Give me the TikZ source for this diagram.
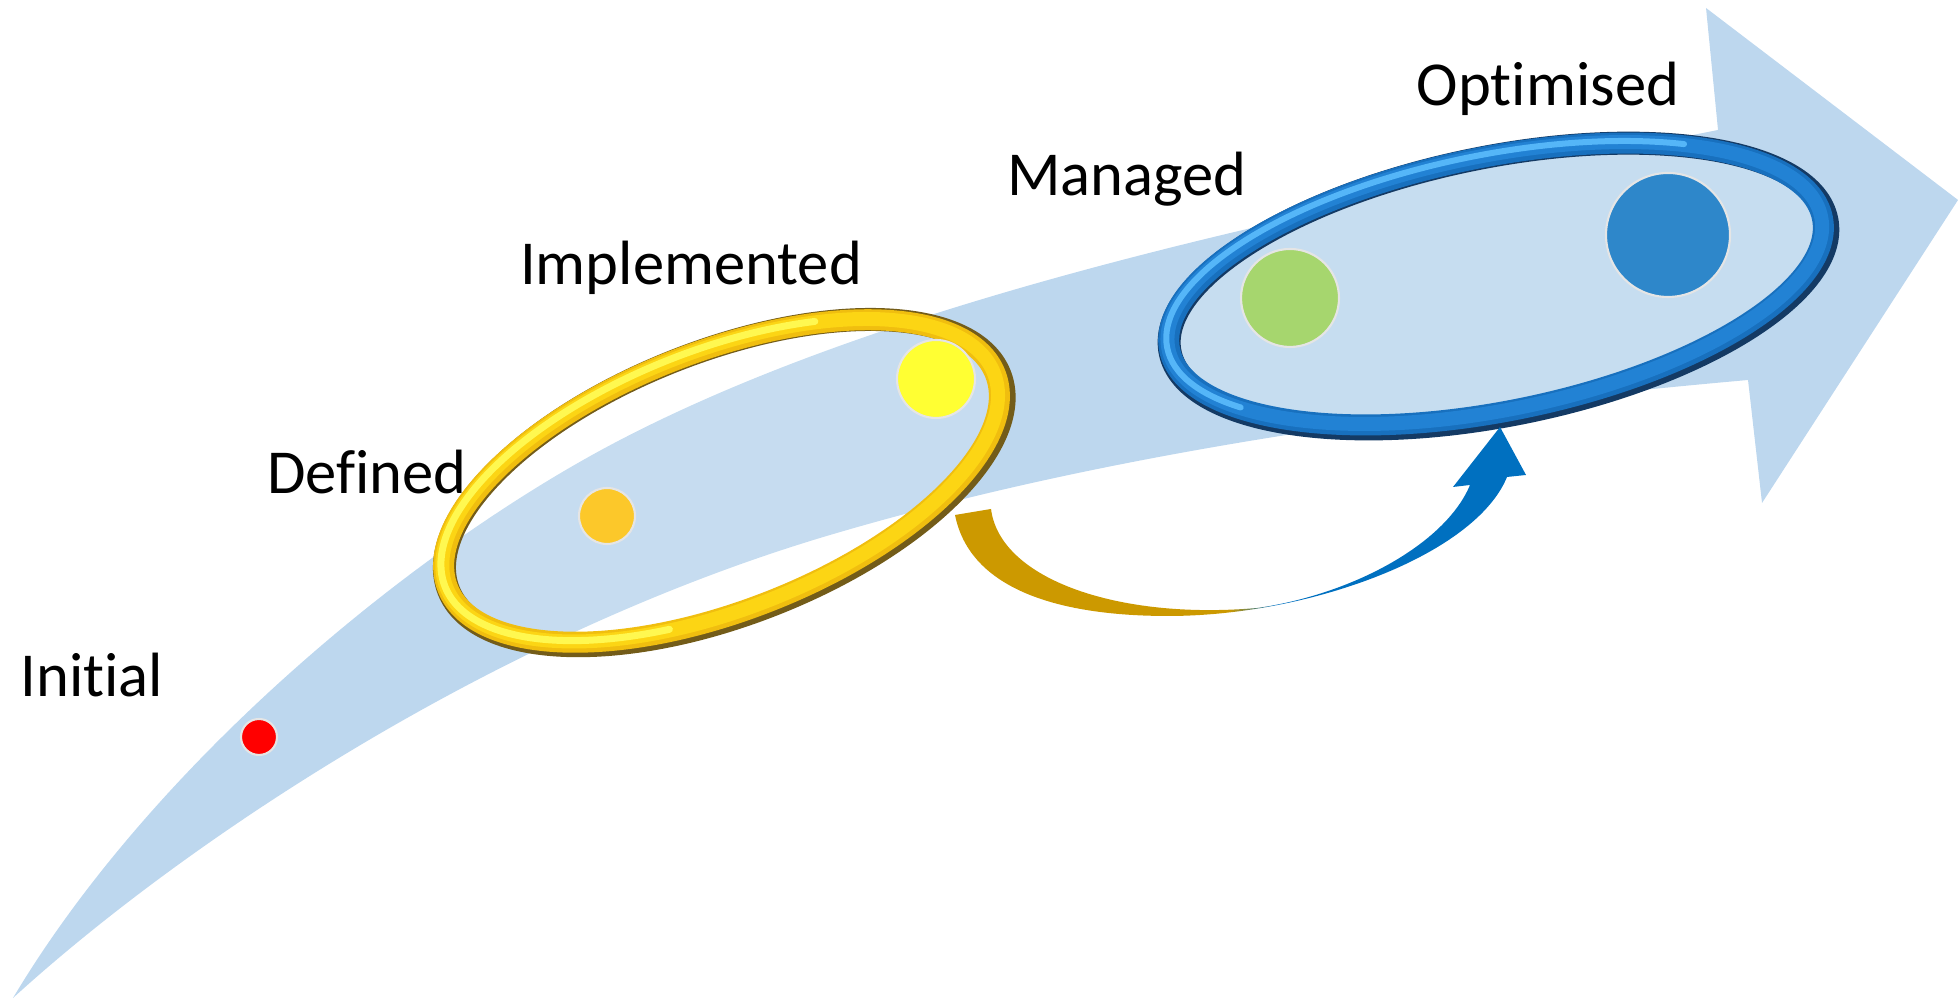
\documentclass[tikz,border=0pt]{standalone}
\usepackage{fontspec}
\setmainfont{Carlito}[Ligatures=NoCommon]
\usepackage{xcolor}
\usepackage{tikz}

\definecolor{bandblue}{RGB}{189,215,238}
\definecolor{ringfill}{RGB}{198,221,240}
\definecolor{ringgold}{RGB}{240,190,15}
\definecolor{ringgoldmid}{RGB}{252,213,20}
\definecolor{ringgolddark}{RGB}{115,92,25}
\definecolor{ringgoldlight}{RGB}{255,248,80}
\definecolor{ringblue}{RGB}{24,112,190}
\definecolor{ringbluemid}{RGB}{34,130,212}
\definecolor{ringbluedark}{RGB}{20,58,100}
\definecolor{ringbluelight}{RGB}{85,182,248}
\definecolor{arrowgold}{RGB}{204,153,0}
\definecolor{arrowblue}{RGB}{0,112,192}
\definecolor{dotred}{RGB}{255,0,0}
\definecolor{dotorange}{RGB}{252,200,42}
\definecolor{dotyellow}{RGB}{255,255,51}
\definecolor{dotgreen}{RGB}{166,214,110}
\definecolor{dotblue}{RGB}{46,135,202}

% gold tail turning blue towards the head
\pgfdeclarehorizontalshading{goldblue}{100bp}{color(0bp)=(arrowgold); color(49bp)=(arrowgold); color(53bp)=(arrowblue); color(100bp)=(arrowblue)}

\begin{document}
\begin{tikzpicture}[
  lbl/.style={font=\fontsize{17.8}{21}\selectfont, anchor=base, inner sep=0pt},
  dot/.style={circle, draw=gray!20, line width=0.6pt, inner sep=0pt},
  tube/.style={line width=0.23cm},
  shine/.style={line width=0.07cm, line cap=round},
]
\useasboundingbox (0,0) rectangle (19.58,10);

% maturity arrow
\fill[bandblue] (0.13,0.02) .. controls (1.55,2.40) and (4.20,4.56) .. (6.20,5.60)
  .. controls (9.20,7.16) and (13.68,8.00) .. (17.18,8.70)
  -- (17.06,9.92) -- (19.58,8.00) -- (17.62,4.97) -- (17.48,6.20)
  .. controls (14.48,5.93) and (11.20,5.52) .. (8.20,4.62)
  .. controls (4.90,3.62) and (1.83,1.57) .. cycle;

% gold ring
\begin{scope}[shift={(7.215,5.19)}, rotate=21.35]
  \fill[white, opacity=0.15] (0,0) ellipse (2.94 and 1.295);
  \draw[tube, ringgolddark] (0.02,-0.025) ellipse (2.96 and 1.315);
  \draw[line width=0.21cm, ringgold] (0,0) ellipse (2.94 and 1.295);
  \draw[line width=0.14cm, ringgoldmid] (-0.01,0.012) ellipse (2.94 and 1.295);
  \draw[shine, ringgoldlight] (60:2.94 and 1.295) ++(-0.02,0.025)
    arc[start angle=60, end angle=250, x radius=2.94, y radius=1.295];
\end{scope}

% blue ring
\begin{scope}[shift={(14.96,7.16)}, rotate=11.45]
  \fill[ringfill] (0,0) ellipse (3.33 and 1.27);
  \draw[tube, ringbluedark] (0.02,-0.025) ellipse (3.35 and 1.29);
  \draw[line width=0.21cm, ringblue] (0,0) ellipse (3.33 and 1.27);
  \draw[line width=0.14cm, ringbluemid] (-0.01,0.012) ellipse (3.33 and 1.27);
  \draw[shine, line width=0.06cm, ringbluelight] (50:3.33 and 1.27) ++(-0.02,0.025)
    arc[start angle=50, end angle=215, x radius=3.33, y radius=1.27];
\end{scope}

% levels
\node[dot, fill=dotred, minimum size=0.36cm] (initialdot) at (2.59,2.63) {};
\node[dot, fill=dotorange, minimum size=0.56cm] (defineddot) at (6.07,4.84) {};
\node[dot, fill=dotyellow, minimum size=0.78cm] (impldot) at (9.36,6.21) {};
\node[dot, fill=dotgreen, minimum size=0.98cm] (manageddot) at (12.90,7.02) {};
\node[dot, fill=dotblue, minimum size=1.24cm] (optdot) at (16.68,7.65) {};

% bent arrow between the rings
\shade[shading=goldblue] (9.55,4.85) .. controls (9.70,4.10) and (10.60,3.84) .. (11.68,3.84)
  .. controls (13.10,3.84) and (14.75,4.45) .. (15.07,5.23)
  -- (15.26,5.25) -- (15.00,5.73) -- (14.53,5.13) -- (14.70,5.15)
  .. controls (14.45,4.55) and (13.50,4.05) .. (12.57,3.92)
  .. controls (11.20,3.80) and (10.00,4.20) .. (9.91,4.91) -- cycle;

\node[lbl] (initial) at (0.92,3.03) {Initial};
\node[lbl] (defined) at (3.67,5.06) {Defined};
\node[lbl] (impl) at (6.91,7.15) {Implemented};
\node[lbl] (managed) at (11.27,8.04) {Managed};
\node[lbl] (opt) at (15.48,8.94) {Optimised};
\end{tikzpicture}
\end{document}
